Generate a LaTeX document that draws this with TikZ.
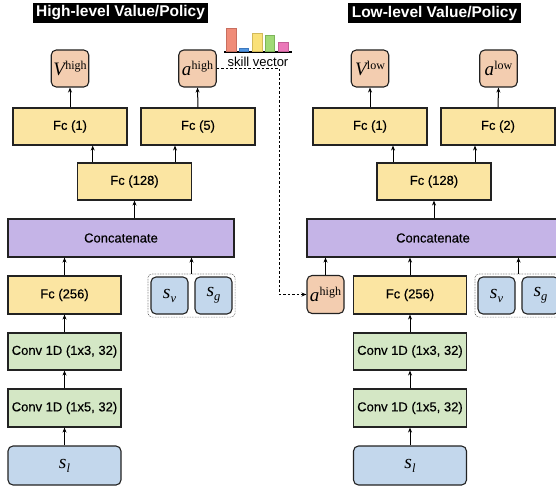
\documentclass[tikz,border=0pt]{standalone}
\usepackage{fontspec}
\setmainfont{Liberation Sans}
\setsansfont{Liberation Sans}
\newfontfamily\medsans{Liberation Sans}[FakeBold=0.4]
\newfontfamily\serifm{Liberation Serif}
\usetikzlibrary{arrows.meta,fit}
\definecolor{peach}{HTML}{F3CDB0}
\definecolor{fcyel}{HTML}{FBE5A2}
\definecolor{purp}{HTML}{C5B4E7}
\definecolor{grn}{HTML}{D4E7C5}
\definecolor{blu}{HTML}{C3D7EC}
\definecolor{edge}{HTML}{222222}
\definecolor{barred}{RGB}{240,140,120}
\definecolor{barredd}{RGB}{200,110,95}
\definecolor{barblu}{RGB}{80,150,225}
\definecolor{barblud}{RGB}{60,120,190}
\definecolor{baryel}{RGB}{250,225,120}
\definecolor{baryeld}{RGB}{210,185,90}
\definecolor{bargrn}{RGB}{160,218,118}
\definecolor{bargrnd}{RGB}{125,180,90}
\definecolor{barpnk}{RGB}{235,120,185}
\definecolor{barpnkd}{RGB}{195,95,150}
\newcommand\msup[2]{{\serifm\fontsize{19}{19}\selectfont\itshape #1}\kern0.3pt\raisebox{6pt}{\serifm\fontsize{12}{12}\selectfont #2}}
\newcommand\msub[2]{{\serifm\fontsize{19.5}{19.5}\selectfont\itshape #1}\raisebox{-4pt}{\serifm\fontsize{12.5}{12.5}\selectfont\itshape #2}}
\begin{document}
\begin{tikzpicture}[x=1pt,y=-1pt,
  base/.style={draw=edge,line width=1.1pt,inner sep=0pt,font=\medsans\fontsize{13}{15}\selectfont},
  fcbox/.style={base,fill=fcyel,minimum width=114pt,minimum height=37pt},
  convbox/.style={base,fill=grn,minimum width=113pt,minimum height=37pt},
  catbox/.style={base,fill=purp,minimum height=38pt},
  outbox/.style={base,fill=peach,rounded corners=5pt,minimum width=37.5pt,minimum height=37pt},
  inbox/.style={base,fill=blu,rounded corners=5pt,minimum width=37pt,minimum height=37pt},
  grp/.style={draw=black!70,line width=0.6pt,densely dotted,rounded corners=4pt,inner sep=2.5pt},
  ttl/.style={fill=black,text=white,font=\bfseries\fontsize{15.5}{17}\selectfont,minimum width=175pt,minimum height=20pt,inner sep=0pt},
  arr/.style={-{Stealth[length=5pt,width=4pt]},line width=1pt,draw=black},
  dsh/.style={-{Stealth[length=5pt,width=4pt]},line width=1pt,dash pattern=on 2.5pt off 2pt},
  bar/.style={line width=0.3pt}
]
\useasboundingbox (0,0) rectangle (556,487);
% ---------- left ----------
\node[ttl] (t1) at (120.5,13) {High-level Value/Policy};
\node[outbox] (vh) at (70,68.5) {\msup{V}{high}};
\node[outbox] (ah) at (197.5,68.5) {\msup{a}{high}};
\node[fcbox] (fc1L) at (70,126.5) {Fc (1)};
\node[fcbox] (fc5) at (198,126.5) {Fc (5)};
\node[fcbox] (fc128L) at (134.5,181.5) {Fc (128)};
\node[catbox,minimum width=226pt] (catL) at (121,238) {Concatenate};
\node[fcbox,minimum width=113pt,minimum height=38pt] (fc256L) at (64.5,295) {Fc (256)};
\node[inbox] (svL) at (169.5,295.5) {\msub{s}{v}};
\node[inbox] (sgL) at (213.5,295.5) {\msub{s}{g}};
\node[grp,fit=(svL)(sgL)] (grpL) {};
\node[convbox] (c3L) at (64.5,351.5) {Conv 1D (1x3, 32)};
\node[convbox,minimum height=38pt] (c5L) at (64.5,408) {Conv 1D (1x5, 32)};
\node[inbox,minimum width=113pt,minimum height=39pt] (slL) at (64.5,465.5) {\msub{s}{l}};
% arrows left
\draw[arr] (fc1L.north) -- (vh.south);
\draw[arr] (fc5.north) -- (ah.south);
\draw[arr] (fc128L.north -| 92.7,0) -- (fc1L.south -| 92.7,0);
\draw[arr] (fc128L.north -| 175,0) -- (fc5.south -| 175,0);
\draw[arr] (catL.north -| fc128L.south) -- (fc128L.south);
\draw[arr] (fc256L.north) -- (catL.south -| fc256L.north);
\draw[arr] (grpL.north) -- (catL.south -| grpL.north);
\draw[arr] (c3L.north) -- (fc256L.south);
\draw[arr] (c5L.north) -- (c3L.south);
\draw[arr] (slL.north) -- (c5L.south);
% skill vector
\fill[black] (224,51) rectangle (292,53.2);
\filldraw[bar,fill=barred,draw=barredd] (226,28) rectangle (236,51);
\filldraw[bar,fill=barblu,draw=barblud] (239,48.5) rectangle (248.5,51);
\filldraw[bar,fill=baryel,draw=baryeld] (252,33) rectangle (262,51);
\filldraw[bar,fill=bargrn,draw=bargrnd] (265,35) rectangle (274.5,51);
\filldraw[bar,fill=barpnk,draw=barpnkd] (278,42) rectangle (288,51);
\node[font=\fontsize{13}{15}\selectfont,inner sep=0pt] (svtext) at (258,61.5) {skill vector};
% ---------- right ----------
\node[ttl,minimum width=173pt] (t2) at (434.5,13) {Low-level Value/Policy};
\node[outbox] (vl) at (370,68.5) {\msup{V}{low}};
\node[outbox] (al) at (498.5,68.5) {\msup{a}{low}};
\node[fcbox] (fc1R) at (370,126.5) {Fc (1)};
\node[fcbox] (fc2) at (498,126.5) {Fc (2)};
\node[fcbox] (fc128R) at (434,181.5) {Fc (128)};
\node[catbox,minimum width=252pt] (catR) at (433,238) {Concatenate};
\node[outbox,minimum width=37pt,minimum height=38pt] (ahR) at (325.5,294.5) {\msup{a}{high}};
\node[fcbox,minimum width=113pt,minimum height=38pt] (fc256R) at (410,295) {Fc (256)};
\node[inbox] (svR) at (496.5,295.5) {\msub{s}{v}};
\node[inbox] (sgR) at (540.5,295.5) {\msub{s}{g}};
\node[grp,fit=(svR)(sgR)] (grpR) {};
\node[convbox] (c3R) at (410,351.5) {Conv 1D (1x3, 32)};
\node[convbox,minimum height=38pt] (c5R) at (410,408) {Conv 1D (1x5, 32)};
\node[inbox,minimum width=113pt,minimum height=39pt] (slR) at (410,465.5) {\msub{s}{l}};
% arrows right
\draw[arr] (fc1R.north) -- (vl.south);
\draw[arr] (fc2.north) -- (al.south);
\draw[arr] (fc128R.north -| 393,0) -- (fc1R.south -| 393,0);
\draw[arr] (fc128R.north -| 475,0) -- (fc2.south -| 475,0);
\draw[arr] (catR.north -| fc128R.south) -- (fc128R.south);
\draw[arr] (ahR.north) -- (catR.south -| ahR.north);
\draw[arr] (fc256R.north) -- (catR.south -| fc256R.north);
\draw[arr] (grpR.north) -- (catR.south -| grpR.north);
\draw[arr] (c3R.north) -- (fc256R.south);
\draw[arr] (c5R.north) -- (c3R.south);
\draw[arr] (slR.north) -- (c5R.south);
% dashed link
\coordinate (bend) at (279.5,68.5);
\draw[dsh] (ah.east) -- (bend) |- (ahR.west);
\end{tikzpicture}
\end{document}
